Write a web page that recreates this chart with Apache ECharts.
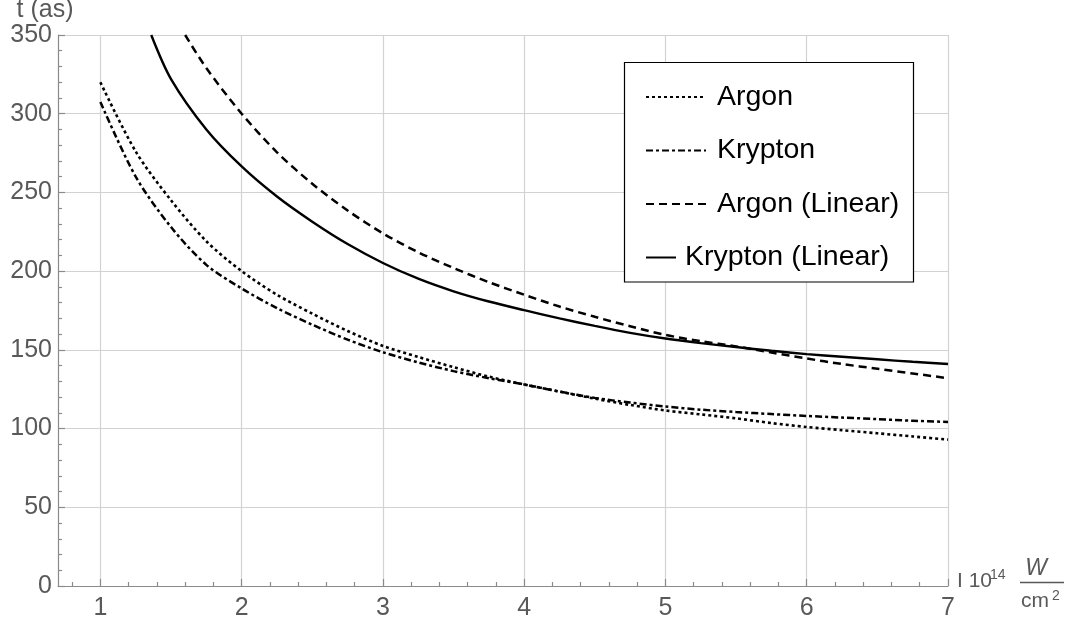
<!DOCTYPE html>
<html>
<head>
<meta charset="utf-8">
<script src="https://cdn.jsdelivr.net/npm/echarts@6/dist/echarts.min.js"></script>
<style>html,body{margin:0;padding:0;background:#fff;}#c{width:1070px;height:622px;}</style>
</head>
<body>
<div id="c"></div>
<script>
// ---- data ----
const seriesNames = ['Argon', 'Krypton', 'Argon (Linear)', 'Krypton (Linear)'];
const xFull = [1, 1.25, 1.5, 1.75, 2, 2.25, 2.5, 2.75, 3, 3.25, 3.5, 3.75, 4, 4.25, 4.5, 4.75, 5, 5.25, 5.5, 5.75, 6, 6.25, 6.5, 6.75, 7];
const yArgon = [320, 276, 245, 219, 200, 185, 173, 162, 152.5, 145.5, 139, 133, 128, 123.5, 119, 115, 111.5, 109, 106.5, 103.5, 101, 99, 97, 95, 93];
const yKrypton = [307.5, 260, 228, 204, 189, 176.5, 166, 156.5, 148.5, 142, 136.5, 132, 128, 123.5, 119.5, 116.5, 114, 112, 110.5, 109.2, 108, 107, 106, 105, 104.2];
const xArgonLin = [1.6, 1.75, 2, 2.25, 2.5, 2.75, 3, 3.25, 3.5, 3.75, 4, 4.25, 4.5, 4.75, 5, 5.25, 5.5, 5.75, 6, 6.25, 6.5, 6.75, 7];
const yArgonLin = [350, 329, 300, 275.5, 255.5, 238.5, 224, 212, 202, 193, 185, 177.5, 171, 165, 159.5, 155.5, 152.2, 148.3, 144.5, 141, 138, 135, 132];
const xKryptonLin = [1.36, 1.5, 1.75, 2, 2.25, 2.5, 2.75, 3, 3.25, 3.5, 3.75, 4, 4.25, 4.5, 4.75, 5, 5.25, 5.5, 5.75, 6, 6.25, 6.5, 6.75, 7];
const yKryptonLin = [350, 322, 290, 266.5, 247.4, 231.4, 217.2, 205.2, 195.2, 187.2, 180.7, 175.2, 170, 165.2, 160.8, 157.2, 154.3, 151.8, 149.4, 147.3, 145.6, 144, 142.4, 141];
const xTicks = [1, 2, 3, 4, 5, 6, 7];
const xMinorTicks = [0.8, 1.2, 1.4, 1.6, 1.8, 2.2, 2.4, 2.6, 2.8, 3.2, 3.4, 3.6, 3.8, 4.2, 4.4, 4.6, 4.8,
                     5.2, 5.4, 5.6, 5.8, 6.2, 6.4, 6.6, 6.8];
const yAxisTitle = 't (as)';

const pair = (xs, ys) => xs.map((x, i) => [x, ys[i]]);
const FONT = 'Liberation Sans, Arial, Helvetica, sans-serif';
const AXIS_GRAY = '#8a8a8a';
const LABEL_GRAY = '#595959';
const GRID_GRAY = '#d2d2d2';

const styles = [
  { type: [3, 3], width: 2.6 },
  { type: [7, 3, 3, 3], width: 2.5 },
  { type: [8, 5], width: 2.5 },
  { type: 'solid', width: 2.4 }
];
const dataSets = [pair(xFull, yArgon), pair(xFull, yKrypton), pair(xArgonLin, yArgonLin), pair(xKryptonLin, yKryptonLin)];

const chart = echarts.init(document.getElementById('c'), null, { renderer: 'canvas' });
chart.setOption({
  animation: false,
  backgroundColor: '#fff',
  textStyle: { fontFamily: FONT },
  grid: { left: 58, top: 35, right: 122, bottom: 36, containLabel: false, outerBoundsMode: 'none' },
  xAxis: [
    {
      type: 'value', min: 0.7, max: 7,
      axisLine: { show: true, lineStyle: { color: AXIS_GRAY, width: 1.2 } },
      axisTick: { show: true, inside: true, length: 7, customValues: xTicks, lineStyle: { color: AXIS_GRAY, width: 1.2 } },
      axisLabel: { show: true, customValues: xTicks, fontSize: 25, color: LABEL_GRAY, margin: 10, fontFamily: FONT },
      splitLine: { show: true, lineStyle: { color: GRID_GRAY, width: 1.2 } },
      minorTick: { show: false }
    },
    {
      type: 'value', min: 0.7, max: 7, position: 'bottom', gridIndex: 0,
      axisLine: { show: false },
      axisTick: { show: true, inside: true, length: 4, customValues: xMinorTicks, lineStyle: { color: AXIS_GRAY, width: 1.2 } },
      axisLabel: { show: false },
      splitLine: { show: false }
    }
  ],
  yAxis: {
    type: 'value', min: 0, max: 350, interval: 50,
    name: yAxisTitle, nameLocation: 'end', nameGap: 7,
    nameTextStyle: { fontSize: 25, color: LABEL_GRAY, align: 'center', padding: [0, 26, 0, 0], fontFamily: FONT },
    axisLine: { show: true, lineStyle: { color: AXIS_GRAY, width: 1.2 } },
    axisTick: { show: true, inside: true, length: 7, lineStyle: { color: AXIS_GRAY, width: 1.2 } },
    minorTick: { show: true, splitNumber: 5, length: 4, lineStyle: { color: AXIS_GRAY, width: 1.2 } },
    axisLabel: { fontSize: 25, color: LABEL_GRAY, margin: 6, fontFamily: FONT },
    splitLine: { show: true, lineStyle: { color: GRID_GRAY, width: 1.2 } }
  },
  legend: [
    {
      data: seriesNames.slice(0, 3), orient: 'vertical', left: 640, top: 77,
      itemWidth: 60, itemHeight: 14, itemGap: 23.5, selectedMode: false,
      itemStyle: { opacity: 0 },
      textStyle: { fontSize: 28.5, color: '#000', lineHeight: 30, padding: [0, 0, 0, 6], fontFamily: FONT }
    },
    {
      data: seriesNames.slice(3), orient: 'vertical', left: 640, top: 237.5,
      itemWidth: 30, itemHeight: 14, selectedMode: false,
      itemStyle: { opacity: 0 },
      textStyle: { fontSize: 28.5, color: '#000', lineHeight: 30, padding: [0, 0, 0, 4], fontFamily: FONT }
    }
  ],
  graphic: [
    { type: 'rect', z: 3, shape: { x: 624.5, y: 62.5, width: 289, height: 219.5 }, style: { fill: '#fff', stroke: '#000', lineWidth: 1.2 } },
    { type: 'text', z: 3, x: 957, y: 592, style: { text: 'I 10', font: '21px ' + FONT, fill: LABEL_GRAY, verticalAlign: 'bottom', align: 'left' } },
    { type: 'text', z: 3, x: 990, y: 582, style: { text: '14', font: '14px ' + FONT, fill: LABEL_GRAY, verticalAlign: 'bottom', align: 'left' } },
    { type: 'text', z: 3, x: 1036, y: 580, style: { text: 'W', font: 'italic 23px ' + FONT, fill: LABEL_GRAY, verticalAlign: 'bottom', align: 'center' } },
    { type: 'line', z: 3, shape: { x1: 1020, y1: 582.5, x2: 1064, y2: 582.5 }, style: { stroke: LABEL_GRAY, lineWidth: 1.5 } },
    { type: 'text', z: 3, x: 1021, y: 612, style: { text: 'cm', font: '21px ' + FONT, fill: LABEL_GRAY, verticalAlign: 'bottom', align: 'left' } },
    { type: 'text', z: 3, x: 1052, y: 603, style: { text: '2', font: '14px ' + FONT, fill: LABEL_GRAY, verticalAlign: 'bottom', align: 'left' } }
  ],
  series: seriesNames.map((name, i) => ({
    name, type: 'line', xAxisIndex: 0, yAxisIndex: 0,
    data: dataSets[i], showSymbol: false, symbol: 'none',
    smooth: 0.3, clip: true,
    color: '#000',
    lineStyle: { color: '#000', width: styles[i].width, type: styles[i].type, cap: 'butt' },
    z: 2
  }))
});
</script>
</body>
</html>
